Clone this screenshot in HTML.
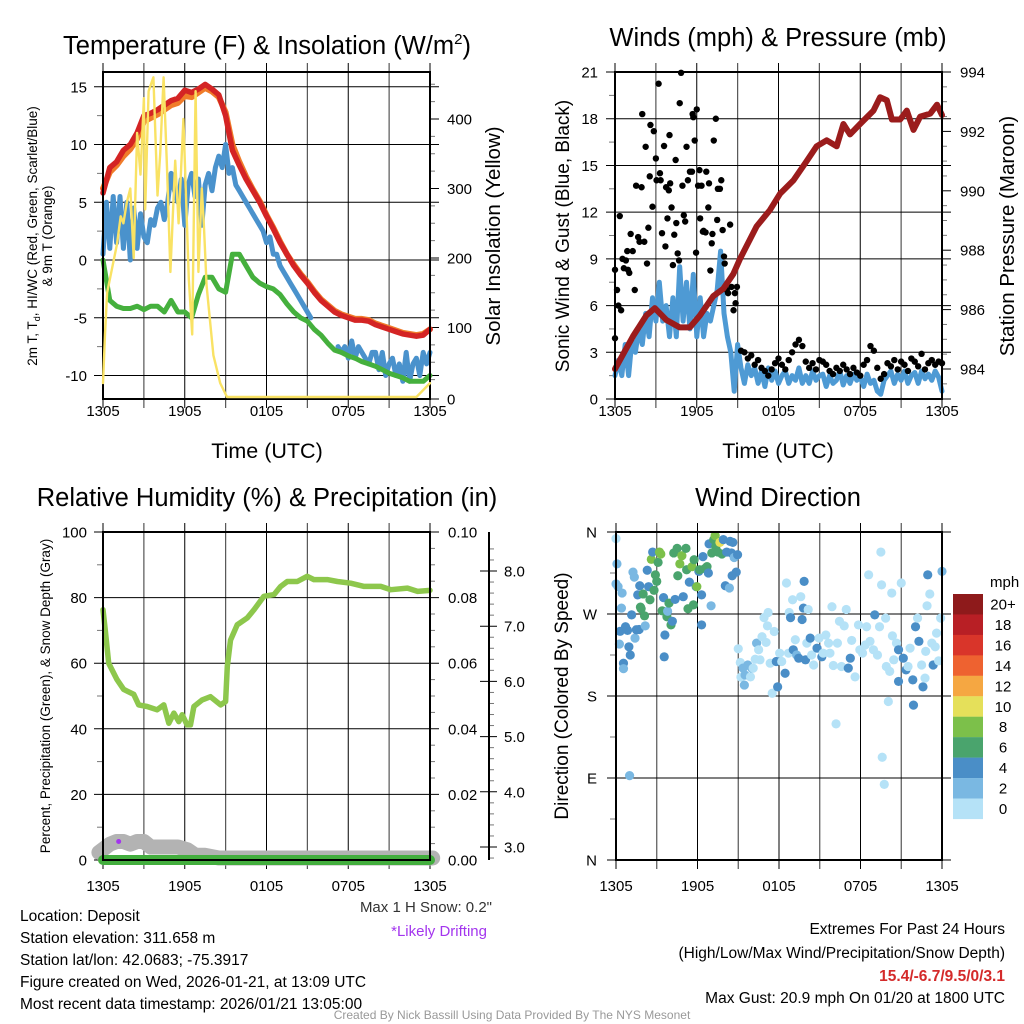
<!DOCTYPE html>
<html><head><meta charset="utf-8">
<style>
html,body{margin:0;padding:0;background:#fff;}
svg{display:block;font-family:"Liberation Sans",sans-serif;}
</style></head>
<body>
<svg id="chart" width="1024" height="1024" viewBox="0 0 1024 1024" xmlns="http://www.w3.org/2000/svg">
<rect width="1024" height="1024" fill="#fff"/>
<g id="grids"></g>
<g id="series"></g>
<g id="frames"></g>
<g id="overlay"></g>
<g id="labels" fill="#000">
 <text x="267" y="54" font-size="25.5" text-anchor="middle">Temperature (F) &amp; Insolation (W/m<tspan font-size="15" dy="-10">2</tspan><tspan dy="10">)</tspan></text>
 <text x="778" y="46" font-size="25.5" text-anchor="middle">Winds (mph) &amp; Pressure (mb)</text>
 <text x="267" y="506" font-size="25.5" text-anchor="middle">Relative Humidity (%) &amp; Precipitation (in)</text>
 <text x="778" y="506" font-size="25.5" text-anchor="middle">Wind Direction</text>
 <text x="267" y="458" font-size="21.5" text-anchor="middle">Time (UTC)</text>
 <text x="778" y="458" font-size="21.5" text-anchor="middle">Time (UTC)</text>
 <text transform="translate(37,236) rotate(-90)" font-size="13.5" text-anchor="middle">2m T, T<tspan font-size="9" dy="3">d</tspan><tspan dy="-3">, HI/WC (Red, Green, Scarlet/Blue)</tspan></text>
 <text transform="translate(52,236) rotate(-90)" font-size="13.5" text-anchor="middle">&amp; 9m T (Orange)</text>
 <text transform="translate(500,236) rotate(-90)" font-size="20.5" text-anchor="middle">Solar Insolation (Yellow)</text>
 <text transform="translate(569,236) rotate(-90)" font-size="19" text-anchor="middle">Sonic Wind &amp; Gust (Blue, Black)</text>
 <text transform="translate(1014,236) rotate(-90)" font-size="20.5" text-anchor="middle">Station Pressure (Maroon)</text>
 <text transform="translate(50,696) rotate(-90)" font-size="13.5" text-anchor="middle">Percent, Precipitation (Green), &amp; Snow Depth (Gray)</text>
 <text transform="translate(568,696) rotate(-90)" font-size="19" text-anchor="middle">Direction (Colored By Speed)</text>
 <text x="990" y="587" font-size="15">mph</text>
 <text x="492" y="912" font-size="15" text-anchor="end" fill="#333">Max 1 H Snow: 0.2"</text>
 <text x="487" y="936" font-size="15" text-anchor="end" fill="#a335ee">*Likely Drifting</text>
 <text x="20" y="921" font-size="15.5">Location: Deposit</text>
 <text x="20" y="943" font-size="15.5">Station elevation: 311.658 m</text>
 <text x="20" y="965" font-size="15.5">Station lat/lon: 42.0683; -75.3917</text>
 <text x="20" y="987" font-size="15.5">Figure created on Wed, 2026-01-21, at 13:09 UTC</text>
 <text x="20" y="1009" font-size="15.5">Most recent data timestamp: 2026/01/21 13:05:00</text>
 <text x="1005" y="934" font-size="15.5" text-anchor="end">Extremes For Past 24 Hours</text>
 <text x="1005" y="958" font-size="15.5" text-anchor="end">(High/Low/Max Wind/Precipitation/Snow Depth)</text>
 <text x="1005" y="981" font-size="15.5" font-weight="bold" text-anchor="end" fill="#d42a2a">15.4/-6.7/9.5/0/3.1</text>
 <text x="1005" y="1003" font-size="15.5" text-anchor="end">Max Gust: 20.9 mph On 01/20 at 1800 UTC</text>
 <text x="512" y="1019" font-size="12" text-anchor="middle" fill="#999">Created By Nick Bassill Using Data Provided By The NYS Mesonet</text>
</g>
<g id="colorbar"></g>
</svg>
<script>
// ---------- DATA ----------
const xTickLabels = ['1305','1905','0105','0705','1305'];
const xTickHours = [0,6,12,18,24];
// Temperature panel (half-hour steps 0..24)
const tempRed = [5.8,8,8.5,9.5,10,11,12.5,12.7,13,13.4,13.8,14,14.7,14.5,14.8,15.2,14.8,14.3,12.5,9.5,8.2,7,6,5,3.8,2.7,1.5,0.5,-0.5,-1.3,-2,-2.8,-3.5,-4,-4.5,-4.8,-5,-5.2,-5.2,-5.3,-5.6,-5.8,-6,-6.2,-6.4,-6.5,-6.6,-6.5,-6];
const tempOrange = [6.2,7.6,8.2,9,9.6,10.5,12,12.3,12.6,13,13.4,13.6,14.2,14.1,14.5,14.9,14.6,14.1,12.8,10,8.5,7.2,6.1,5.1,3.9,2.8,1.6,0.5,-0.4,-1.2,-1.9,-2.7,-3.4,-3.9,-4.4,-4.7,-4.9,-5.1,-5.1,-5.2,-5.5,-5.7,-5.9,-6.1,-6.3,-6.4,-6.5,-6.4,-6];
const dewGreen = [0,-3.5,-4,-4.2,-4.2,-4,-4.3,-4,-4,-4.5,-3.5,-4.5,-4.5,-5,-3,-1.5,-1.5,-2.5,-2.8,0.5,0.5,-0.5,-1.5,-2,-2.3,-2.5,-3,-3.8,-4.5,-5,-5.3,-6,-6.5,-7.2,-7.8,-8,-8.3,-8.5,-8.8,-9,-9.2,-9.5,-9.8,-10,-10.2,-10.5,-10.5,-10.5,-10];
// Wind chill (quarter-hour steps, null = missing)
const windChill = [0.5,5,1,5.5,1.5,5.5,1,5,0,4.5,1,4,2,1.5,3.5,3,4.5,5,3.5,5,7.5,6,5,7,3,6.5,7.5,5.5,7,3,6.5,7.5,6,8,9,8,10,7.5,8,6.5,6,5.5,5,4.5,4,3.5,3,2.5,1.5,2,0.5,0.5,-0.5,-1,-1.5,-2,-2.5,-3,-3.5,-4,-4.5,-5,null,null,null,null,null,null,null,-7.5,-8,-7.5,-8.5,-7,-8.5,-7.5,-8,-8.5,-9,-8,-8,-9.5,-8,-10,-9,-8.5,-10,-9,-10.5,-8,-10.5,-9,-8.5,-10,-8,-9,-8];
const solarHours = [0,0.15,0.3,1.03,1.3,1.5,1.75,2.0,2.25,2.5,2.75,3.0,3.1,3.35,3.7,4.0,4.2,4.45,4.7,4.95,5.3,5.55,5.9,6.3,6.55,6.8,7.0,7.25,7.4,7.6,7.85,8.1,8.6,9.1,23.0,24];
const solarVals = [20,90,150,220,260,250,280,300,200,380,320,430,270,440,460,290,350,460,330,180,340,250,400,170,90,440,180,300,250,160,110,60,20,0,0,20];
// Wind panel
const windSpeed = [1.5,2.5,1.5,3.5,1.5,3.8,3,4.5,3.5,5.5,4,6.5,5,7.5,5,6,4,6.5,4,8.5,5,7.5,4.5,8,4,6.5,4,5.5,5,6,7,9.5,5.5,4,3,0.5,3.5,2,1,2.2,1.5,2,1,1.8,0.8,2,1.2,1.8,1,1.5,1.8,1,1.5,1.2,2,1,1.5,1,1.8,1.2,1.5,1.6,0.8,1.5,1,1.2,1.8,0.9,1.5,1,1.6,1.2,1.4,0.8,1.6,1,1.2,0.5,0.3,1.2,1.5,1.8,1,1.6,1.2,1.8,1,1.5,1.7,1,1.8,1.3,1.6,1.2,1.8,1.4,0.5];
const gustHoursEarly = [0,0,0.15,0.25,0.35,0.45,0.55,0.65,0.8,0.9,0.95,1.05,1.15,1.3,1.45,1.55,1.7,1.8,1.95,2,2.15,2.25,2.35,2.45,2.55,2.6,2.75,2.85,3,3.05,3.2,3.3,3.35,3.45,3.6,3.7,3.75,3.85,3.95,4,4.05,4.15,4.25,4.35,4.45,4.5,4.6,4.7,4.75,4.85,4.95,5.05,5.15,5.25,5.35,5.5,5.65,5.7,5.75,5.85,5.95,6,6.1,6.2,6.25,6.35,6.45,6.5,6.65,6.7,6.85,6.9,7,7.1,7.15,7.25,7.4,7.5,7.55,7.7,7.8,7.9,8,8.05,8.2,8.3,8.45,8.55,8.7,8.8,8.85,8.95];
const gustValsEarly = [8.3,3.9,7,6,11.75,5.7,9,8.4,8.9,9.5,8.3,8.1,10.6,9.5,7,13.7,10.4,10.1,13.6,18.3,10.1,16.2,8.7,11,14.3,17.6,12.35,17.2,15.45,14.05,20.25,14.5,14.05,10.65,16.25,9.8,13.6,11.6,13.4,16.95,13.85,12.3,8.6,10.55,15.35,11.3,9.35,8.9,19,20.95,13.7,11.8,11.4,16.2,14.05,14.6,14.6,18.3,18.1,16.6,9.4,18.6,13.7,14.7,11.6,13.7,10.75,10.8,10.7,14.6,12.3,13.85,8.25,10,10.6,16.6,18,11.5,13.5,13.5,14.05,10.85,9.15,8.7,7,6.8,11.2,7.2,5.7,6.8,6.15,7.2];
const gustValsLate = [3.1,3.0,2.6,2.8,2.2,2.5,2.0,1.8,1.5,1.9,2.3,2.6,2.2,1.9,2.5,3.0,3.5,3.8,3.4,2.4,2.0,2.3,1.9,2.5,2.4,2.2,1.8,1.6,2.0,1.8,2.2,1.9,1.6,2.0,1.7,1.5,2.2,2.5,3.4,3.1,2.0,1.3,1.6,2.3,2.1,2.5,1.9,2.4,2.2,1.8,2.6,2.4,2.1,2.9,1.9,2.3,2.5,2.2,2.4,2.3];
const pressHours = [0,1.32,2.3,2.92,3.77,4.75,5.49,6.23,7.21,7.94,8.68,9.17,10.39,11.37,12.11,13.09,14.07,14.8,15.54,16.27,16.76,17.25,17.99,18.97,19.46,19.95,20.32,20.93,21.42,21.91,22.4,23.14,23.63,24];
const pressVals = [984.0,985.1,985.8,986.05,985.65,985.4,985.4,985.8,986.45,986.7,987.2,987.7,988.8,989.35,989.9,990.35,991.0,991.5,991.7,991.5,992.25,991.9,992.25,992.7,993.15,993.05,992.4,992.4,992.7,992.05,992.5,992.6,992.9,992.55];
// RH panel
const rhHours = [0,0.17,0.42,1.03,1.52,2.26,2.62,3.24,3.97,4.46,4.83,5.2,5.56,5.81,6.17,6.42,6.67,7.28,7.89,8.63,9.0,9.12,9.36,9.85,10.59,11.08,11.81,12.55,13.04,13.53,14.26,14.99,15.48,16.46,17.2,18.18,19.16,20.39,21.13,22.35,23.09,24];
const rhVals = [76.3,70,60,55,52,50.5,47.3,46.8,45.8,47.3,41.7,44.8,42.2,44.3,41.2,41.2,46.8,48.8,49.8,47.3,48.3,59,67,71.7,73.8,76.3,80.4,80.9,83.4,84.9,84.9,86.5,85.5,85.5,84.9,84.4,83.4,83.4,82.4,82.9,81.9,82.2];
const snowHours = [-0.3,0.5,1,1.5,2,2.5,3,3.5,4.5,5.5,6.2,6.8,7.5,8.5,24.2];
const snowVals = [2.9,3.05,3.1,3.1,3.05,3.1,3.1,3.0,3.0,3.0,2.95,2.85,2.85,2.8,2.8];
const precipHours = [0,24];
const precipVals = [0,0];
const driftHour = 1.15, driftSnow = 3.1;
// Direction panel
const dirHours = [0,0.07,0,0.15,0.45,0.4,0.3,0.25,0.55,0.55,0.7,0.85,0.95,1.05,1.0,1.15,1.25,1.35,1.4,1.5,1.6,1.7,1.75,1.8,1.85,2.0,2.1,2.15,2.3,2.4,2.5,2.6,2.7,2.8,2.9,3.0,3.1,3.2,3.3,3.4,3.5,3.6,3.55,3.75,3.8,3.9,4.05,4.15,4.25,4.35,4.5,4.55,4.7,4.85,4.95,5.15,5.2,5.3,5.4,5.6,5.7,5.75,5.9,5.95,6.1,6.15,6.3,6.4,6.3,6.55,6.7,6.8,6.85,7.0,7.05,7.2,7.3,7.35,7.5,7.65,7.8,7.9,8.05,8.15,8.35,8.4,8.5,8.6,8.55,8.7,8.85,8.95,
 9.0,9.15,9.2,9.45,9.35,9.5,9.7,9.9,10.0,10.1,10.25,10.35,10.5,10.6,10.75,10.9,11.05,11.2,11.15,11.35,11.5,11.65,11.8,11.9,12.05,12.2,12.45,12.55,12.7,12.75,12.85,13.0,13.05,13.2,13.3,13.45,13.6,13.7,13.8,13.85,13.95,14.05,14.15,14.3,14.4,14.55,14.8,14.95,15.15,15.25,15.45,15.65,15.75,15.9,16.0,16.2,16.3,16.45,16.6,16.8,16.95,17.1,17.25,17.35,17.6,17.85,17.95,18.15,18.35,18.45,18.6,18.7,18.95,19.05,19.25,19.4,19.5,19.55,19.6,19.75,19.85,19.9,20.05,20.15,20.3,20.35,20.45,20.65,20.8,20.8,21.0,21.15,21.35,21.5,21.65,21.85,21.9,22.05,22.2,22.3,22.5,22.6,22.75,22.8,22.9,22.95,23.1,23.25,23.35,23.5,23.6,23.75,23.9,24.0];
const dirDegs = [352.7,325,303,300,293,276.5,251,237,216,210,256,252,234,225,92.6,269,316,310.5,243.5,252.7,291,253,301,277.6,275.8,292,268,257,318,300,285.6,330,338,296,313,305.8,326.6,338,335.8,273.5,288,247,223,267,273,282,258,262,337,286,342,312,325,334,289,342,318.6,275.8,305,322,280,329.6,300,300,316.8,318.6,291,333,258,320,322,315,347,279,337,351.6,356,344,338,348.6,335.8,351.6,301,338,298.5,349.7,337,348.6,312,332,316,335,
 231.8,216.8,200.7,192,210.6,203,214,201,210.6,210.6,220.4,238,230.7,219.7,245,266,238.8,271.7,257,216,183,250.8,217.9,190,227,217.9,205,304,227,271.7,266,285.6,230.7,241.7,225,221.5,289,264,276.5,305.8,219.7,238,275,243.5,225,214,232.5,243.5,223,227,247,238,227,278,213.5,149.4,238,262,212.4,257,275,210.6,221.5,241,201,258,230.7,227,236,256,313,240,230.7,269,225,256,338,302,112.8,83,265.5,212.4,174,207,293,246,219.7,238,196,230.7,304,221.5,208.7,212.4,232.5,197.7,170,256,265.5,240,214,190,199.6,229,279,313,292,238,214,234,249,218.6,265.5,316.8];
const dirSpeeds = [1,3,3,3,3,3,5,3,5,3,5,5,5,5,3,5,3,3,3,5,5,5,5,7,7,7,7,3,5,5,7,9,5,7,7,7,7,9,9,7,5,5,5,7,3,7,7,5,7,5,7,7,9,9,5,7,7,7,5,9,7,7,5,9,5,7,5,5,5,7,7,5,5,3,7,7,9,7,7,10.5,7,5,5,5,3,5,5,5,5,3,5,5,
 1,1,1,3,3,3,3,1,3,1,1,3,1,1,1,1,1,1,1,1,1,1,5,5,1,1,5,1,1,1,5,1,5,1,3,5,1,5,5,5,5,1,1,5,1,1,5,1,5,1,1,1,1,1,1,1,1,1,1,1,1,5,5,1,1,1,1,1,1,1,1,1,1,5,1,1,1,1,1,1,1,1,1,1,1,1,1,1,5,5,1,5,5,1,1,5,5,5,1,5,1,5,1,1,1,5,1,1,5,1,1,1,1,3];
const speedBinLabels = ['20+','18','16','14','12','10','8','6','4','2','0'];
const speedBinColors = ['#8e1a1b','#b81f25','#d9352a','#ee6230','#f5a742','#e5e05a','#7cc04a','#4aa46d','#4a8ec7','#7ab8e2','#b5e2f7'];

// ---------- HELPERS ----------
const NS='http://www.w3.org/2000/svg';
function mk(parent, tag, attrs){const e=document.createElementNS(NS,tag);for(const k in attrs)e.setAttribute(k,attrs[k]);parent.appendChild(e);return e;}
const G=document.getElementById('grids'),S=document.getElementById('series'),F=document.getElementById('frames'),O=document.getElementById('overlay'),L=document.getElementById('labels'),CB=document.getElementById('colorbar');

const P1={x0:103,x1:430,y0:72,y1:399}, P2={x0:615,x1:942,y0:72,y1:399}, P3={x0:103,x1:430,y0:532,y1:860}, P4={x0:616,x1:942,y0:532,y1:860};
function xs(P,h){return P.x0+h/24*(P.x1-P.x0);}
const tY=v=>260-v*11.55, solY=s=>397-s*0.695;
const wY=w=>399-w*15.57, pY=p=>369-(p-984)*29.7;
const rhY=r=>860-r*3.28, snowY=s=>847-(s-3)*55.2, prY=p=>860-p*3280;
const dY=d=>860-d/360*328;

function pathFrom(P,hours,vals,yf){let d='',pen=false;for(let i=0;i<vals.length;i++){if(vals[i]===null){pen=false;continue;}d+=(pen?'L':'M')+xs(P,hours[i]).toFixed(1)+' '+yf(vals[i]).toFixed(1);pen=true;}return d;}
function steps(n,dt,start){const a=[];for(let i=0;i<n;i++)a.push((start||0)+i*dt);return a;}

// ---------- GRID / AXES ----------
function xGrid(P,name,labelY){
  for(let h=0;h<=24;h+=3){
    const x=xs(P,h);
    const gl=mk(G,'line',{x1:x,x2:x,y1:P.y0-9,y2:P.y1+9,stroke:(h%6===0)?'#000':'#555','stroke-width':(h%6===0)?1:1.2});
    
    
  }
  xTickHours.forEach((h,i)=>{
    const t=mk(L,'text',{x:xs(P,h),y:labelY,'font-size':15,'text-anchor':'middle'});
    t.textContent=xTickLabels[i];
    
    
  });
}
function yGrid(P,name,vals,yf,labels,lx,anchor,extend){
  vals.forEach((v,i)=>{
    const y=yf(v);
    const gl=mk(G,'line',{x1:P.x0-9,x2:P.x1+(extend||9),y1:y,y2:y,stroke:'#000','stroke-width':1});
    
    
    const t=mk(L,'text',{x:lx,y:y+5.5,'font-size':15,'text-anchor':anchor});
    t.textContent=labels[i];
    
    
  });
}
function minorTicks(x,ys,len,name){ys.forEach(y=>{const m=mk(G,'line',{x1:x,x2:x+len,y1:y,y2:y,stroke:'#777','stroke-width':1});});}
function frame(P,name){const r=mk(F,'rect',{x:P.x0,y:P.y0,width:P.x1-P.x0,height:P.y1-P.y0,fill:'none',stroke:'#000','stroke-width':2});}

// Panel 1
xGrid(P1,'temp',416);
yGrid(P1,'temp',[15,10,5,0,-5,-10],tY,['15','10','5','0','-5','-10'],87,'end');
[400,300,200,100,0].forEach(s=>{const y=(s===0)?399:solY(s);const t=mk(L,'text',{x:447,y:y+5.5,'font-size':15});t.textContent=String(s);
 const tk=mk(G,'line',{x1:P1.x1,x2:P1.x1+9,y1:y,y2:y,stroke:'#000'});});
minorTicks(P1.x0-6,[-7.5,-2.5,2.5,7.5,12.5].map(tY),6,'temp-minor-tick');
minorTicks(P1.x1,[25,50,75,125,150,175,225,250,275,325,350,375,425,450].map(solY),5,'solar-minor-tick');
// Panel 2
xGrid(P2,'wind',416);
yGrid(P2,'wind',[0,3,6,9,12,15,18,21],wY,['0','3','6','9','12','15','18','21'],598,'end');
[984,986,988,990,992,994].forEach(p=>{const t=mk(L,'text',{x:960,y:pY(p)+5.5,'font-size':15});t.textContent=String(p);
 const tk=mk(G,'line',{x1:P2.x1,x2:P2.x1+9,y1:pY(p),y2:pY(p),stroke:'#000'});});
minorTicks(P2.x0-6,[1.5,4.5,7.5,10.5,13.5,16.5,19.5].map(wY),6,'wind-minor-tick');
minorTicks(P2.x1,[983.5,984.5,985,985.5,986.5,987,987.5,988.5,989,989.5,990.5,991,991.5,992.5,993,993.5].map(pY),5,'pressure-minor-tick');
// Panel 3
xGrid(P3,'rh',891);
yGrid(P3,'rh',[0,20,40,60,80,100],rhY,['0','20','40','60','80','100'],87,'end');
[0,0.02,0.04,0.06,0.08,0.1].forEach(p=>{const t=mk(L,'text',{x:448,y:prY(p)+5.5,'font-size':15});t.textContent=p.toFixed(2);});
minorTicks(P3.x0-6,[10,30,50,70,90].map(rhY),6,'rh-minor-tick');
minorTicks(P3.x1,[0.01,0.03,0.05,0.07,0.09,0.005,0.015,0.025,0.035,0.045,0.055,0.065,0.075,0.085,0.095].map(prY),5,'precip-minor-tick');
{const ax=mk(F,'line',{x1:489,x2:489,y1:532,y2:860,stroke:'#000','stroke-width':2});}
[3,4,5,6,7,8].forEach(s=>{const y=snowY(s);const tk=mk(G,'line',{x1:480,x2:497,y1:y,y2:y,stroke:'#000','stroke-width':1});
 const t=mk(L,'text',{x:504,y:y+5.5,'font-size':15});t.textContent=s.toFixed(1);});
minorTicks(489,[2.8,3.2,3.4,3.6,3.8,4.2,4.4,4.6,4.8,5.2,5.4,5.6,5.8,6.2,6.4,6.6,6.8,7.2,7.4,7.6,7.8,8.2,8.4].map(snowY),5,'snow-minor-tick');
// Panel 4
xGrid(P4,'direction',891);
yGrid(P4,'direction',[360,270,180,90,0],dY,['N','W','S','E','N'],597,'end');
minorTicks(P4.x0-6,[315,225,135,45].map(dY),6,'direction-minor-tick');

// ---------- SERIES ----------
const half=steps(49,0.5), quarter=steps(97,0.25);
function line(parent,d,color,w,name){const p=mk(parent,'path',{d:d,fill:'none',stroke:color,'stroke-width':w,'stroke-linejoin':'round','stroke-linecap':'round'});return p;}
line(S,pathFrom(P1,half,tempOrange,tY),'#f07c2a',6,'temp-9m-line');
line(S,pathFrom(P1,half,tempRed,tY),'#d42424',5.5,'temp-2m-line');
line(S,pathFrom(P1,quarter,windChill,tY),'#4a92cc',5,'wind-chill-line');
line(S,pathFrom(P1,half,dewGreen,tY),'#45b03d',5,'dewpoint-line');
line(O,pathFrom(P1,solarHours,solarVals,solY),'#f9e264',2.4,'solar-line');

line(S,pathFrom(P2,quarter,windSpeed,wY),'#4e9ad4',5,'sonic-wind-line');
gustHoursEarly.forEach((h,i)=>{const c=mk(S,'circle',{cx:xs(P2,h),cy:wY(gustValsEarly[i]),r:3.2,fill:'#000'});});
const lateH=steps(gustValsLate.length,0.25,9.25);
gustValsLate.forEach((v,i)=>{const c=mk(S,'circle',{cx:xs(P2,lateH[i]),cy:wY(v),r:3.2,fill:'#000'});});
line(S,pathFrom(P2,pressHours,pressVals,pY),'#9b1c1c',6,'pressure-line');

line(S,pathFrom(P3,snowHours,snowVals,snowY),'#b3b3b3',15,'snow-depth-line');
line(S,pathFrom(P3,precipHours,precipVals,prY),'#43ae3e',10,'precip-line');
{const z=mk(S,'line',{x1:P3.x0,x2:P3.x1,y1:860,y2:860,stroke:'#000','stroke-width':1.5});}
line(S,pathFrom(P3,rhHours,rhVals,rhY),'#8dc74c',5.5,'rh-line');
{const c=mk(S,'circle',{cx:xs(P3,driftHour),cy:snowY(driftSnow),r:2.5,fill:'#a335ee'});}

function binColor(s){const k=Math.min(10,Math.floor(s/2));return speedBinColors[10-k];}
dirHours.forEach((h,i)=>{const c=mk(S,'circle',{cx:xs(P4,h),cy:dY(dirDegs[i]),r:4.6,fill:binColor(dirSpeeds[i])});});

// frames
frame(P1,'temp-plot-frame');frame(P2,'wind-plot-frame');frame(P3,'rh-plot-frame');frame(P4,'direction-plot-frame');

// colorbar
speedBinColors.forEach((c,i)=>{const y=594+i*20.45;
 const r=mk(CB,'rect',{x:953,y:y,width:30,height:20.6,fill:c});
 const t=mk(CB,'text',{x:1003,y:y+15.5,'font-size':15,'text-anchor':'middle'});t.textContent=speedBinLabels[i];});
</script>
</body></html>
